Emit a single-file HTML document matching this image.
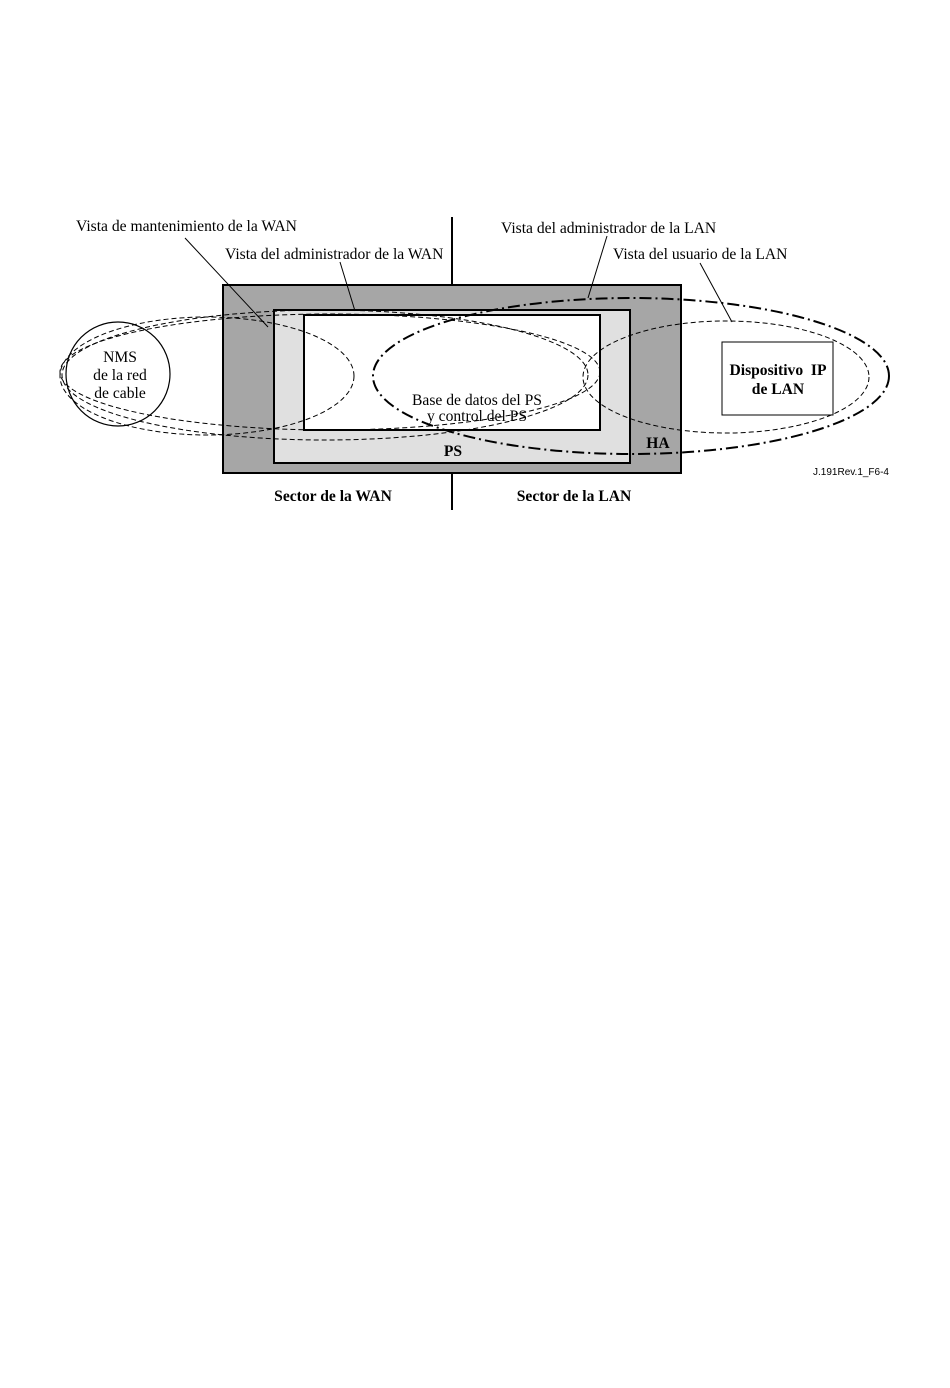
<!DOCTYPE html>
<html><head><meta charset="utf-8"><style>
html,body{margin:0;padding:0;background:#fff;}
svg{display:block;}
text{font-family:"Liberation Serif",serif;font-size:15.6px;fill:#000;}
.b{font-weight:bold;}
</style></head><body>
<svg width="950" height="1388" viewBox="0 0 950 1388" xmlns="http://www.w3.org/2000/svg">
<line x1="452" y1="217" x2="452" y2="510" stroke="#000" stroke-width="2"/>
<rect x="223" y="285" width="458" height="188" fill="#a6a6a6" stroke="#000" stroke-width="2"/>
<rect x="274" y="310" width="356" height="153" fill="#e0e0e0" stroke="#000" stroke-width="2"/>
<rect x="304" y="315" width="296" height="115" fill="#fff" stroke="#000" stroke-width="2"/>
<rect x="722" y="342" width="111" height="73" fill="#fff" stroke="#000" stroke-width="1"/>
<circle cx="118" cy="374" r="52" fill="none" stroke="#000" stroke-width="1.2"/>
<g fill="none" stroke="#000" stroke-width="1" stroke-dasharray="5,3">
<ellipse cx="207" cy="376" rx="147" ry="59"/>
<ellipse cx="330" cy="372" rx="270" ry="58"/>
<ellipse cx="325" cy="375" rx="263" ry="65"/>
<ellipse cx="726" cy="377" rx="143" ry="56"/>
</g>
<ellipse cx="631" cy="376" rx="258" ry="78" fill="none" stroke="#000" stroke-width="2" stroke-dasharray="12,4,2,4"/>
<g stroke="#000" stroke-width="1">
<line x1="185" y1="238" x2="268" y2="327"/>
<line x1="340" y1="262" x2="355" y2="311"/>
<line x1="607" y1="236" x2="588" y2="298"/>
<line x1="700" y1="263" x2="732" y2="322"/>
</g>
<text x="76" y="231">Vista de mantenimiento de la WAN</text>
<text x="225" y="259">Vista del administrador de la WAN</text>
<text x="501" y="233">Vista del administrador de la LAN</text>
<text x="613" y="259">Vista del usuario de la LAN</text>
<g text-anchor="middle">
<text x="120" y="362">NMS</text>
<text x="120" y="380">de la red</text>
<text x="120" y="398">de cable</text>
<text x="477" y="405">Base de datos del PS</text>
<text x="477" y="421">y control del PS</text>
<text x="453" y="456" class="b">PS</text>
<text x="658" y="448" class="b">HA</text>
<text x="778" y="375" class="b">Dispositivo&#160;&#160;IP</text>
<text x="778" y="394" class="b">de LAN</text>
<text x="333" y="501" class="b">Sector de la WAN</text>
<text x="574" y="501" class="b">Sector de la LAN</text>
</g>
<text x="889" y="475" text-anchor="end" style="font-family:'Liberation Sans',sans-serif;font-size:10px">J.191Rev.1_F6-4</text>
</svg>
</body></html>
